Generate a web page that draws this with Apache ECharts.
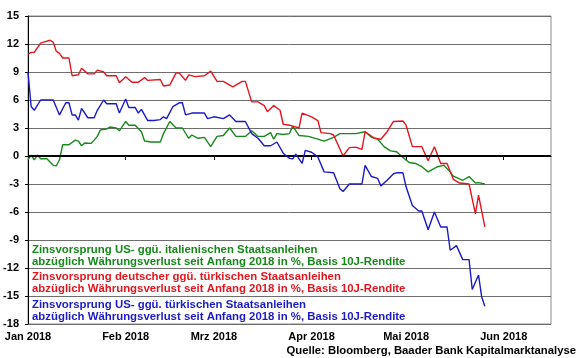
<!DOCTYPE html>
<html>
<head>
<meta charset="utf-8">
<script src="https://cdn.jsdelivr.net/npm/echarts@6/dist/echarts.min.js"></script>
<style>html,body{margin:0;padding:0;background:#fff}#c{width:580px;height:358px}</style>
</head>
<body>
<div id="c"></div>
<script>
// ---- data ----
const monthTicks = ['2018-01-01','2018-02-01','2018-03-01','2018-04-01','2018-05-01','2018-06-01'];
const monthNames = ['Jan','Feb','Mrz','Apr','Mai','Jun','Jul','Aug','Sep','Okt','Nov','Dez'];
const xRange = ['2018-01-01','2018-06-16'];

const redDates = ['2018-01-01','2018-01-02','2018-01-03','2018-01-05','2018-01-06','2018-01-08','2018-01-09','2018-01-10','2018-01-11','2018-01-12','2018-01-14','2018-01-15','2018-01-17','2018-01-18','2018-01-20','2018-01-22','2018-01-23','2018-01-25','2018-01-26','2018-01-29','2018-01-30','2018-02-01','2018-02-03','2018-02-05','2018-02-07','2018-02-08','2018-02-12','2018-02-13','2018-02-15','2018-02-17','2018-02-18','2018-02-20','2018-02-21','2018-02-23','2018-02-26','2018-02-28','2018-03-02','2018-03-04','2018-03-07','2018-03-10','2018-03-11','2018-03-13','2018-03-15','2018-03-17','2018-03-18','2018-03-20','2018-03-22','2018-03-23','2018-03-25','2018-03-28','2018-03-29','2018-04-01','2018-04-03','2018-04-04','2018-04-07','2018-04-08','2018-04-11','2018-04-13','2018-04-15','2018-04-17','2018-04-18','2018-04-21','2018-04-23','2018-04-25','2018-04-27','2018-04-30','2018-05-01','2018-05-03','2018-05-06','2018-05-08','2018-05-10','2018-05-12','2018-05-14','2018-05-16','2018-05-18','2018-05-21','2018-05-23','2018-05-24','2018-05-26'];
const redValues = [10.9,11.1,11.1,12.1,12.2,12.4,12.2,11.2,11.0,10.5,10.5,8.6,8.7,9.4,8.8,8.8,9.2,9.0,8.6,8.6,7.85,8.5,7.9,7.9,8.4,8.1,8.2,7.5,7.6,8.9,8.9,8.1,8.7,8.5,8.6,9.1,8.0,8.0,7.4,8.0,8.0,5.8,5.8,5.4,4.75,5.4,4.9,3.4,3.3,3.0,4.6,4.2,3.8,2.5,2.4,2.25,0.0,0.9,0.95,0.7,2.6,1.9,1.8,2.6,3.7,3.75,3.3,1.0,1.0,-0.5,1.0,-0.8,-0.8,-2.5,-2.9,-3.0,-6.2,-4.2,-7.6];

const blueDates = ['2018-01-01','2018-01-02','2018-01-03','2018-01-05','2018-01-07','2018-01-09','2018-01-11','2018-01-13','2018-01-14','2018-01-15','2018-01-16','2018-01-17','2018-01-18','2018-01-20','2018-01-22','2018-01-23','2018-01-25','2018-01-26','2018-01-29','2018-01-30','2018-02-01','2018-02-02','2018-02-04','2018-02-05','2018-02-06','2018-02-08','2018-02-10','2018-02-12','2018-02-13','2018-02-14','2018-02-16','2018-02-18','2018-02-19','2018-02-20','2018-02-22','2018-02-24','2018-02-26','2018-02-27','2018-03-01','2018-03-04','2018-03-06','2018-03-08','2018-03-11','2018-03-13','2018-03-15','2018-03-17','2018-03-19','2018-03-21','2018-03-23','2018-03-25','2018-03-26','2018-03-27','2018-03-29','2018-03-30','2018-04-01','2018-04-03','2018-04-05','2018-04-08','2018-04-10','2018-04-11','2018-04-13','2018-04-17','2018-04-18','2018-04-20','2018-04-22','2018-04-23','2018-04-25','2018-04-27','2018-04-28','2018-04-30','2018-05-01','2018-05-03','2018-05-05','2018-05-06','2018-05-08','2018-05-10','2018-05-12','2018-05-14','2018-05-15','2018-05-17','2018-05-19','2018-05-21','2018-05-22','2018-05-24','2018-05-25','2018-05-26'];
const blueValues = [9.0,5.3,4.9,6.0,6.0,6.0,4.4,5.7,5.7,4.4,4.4,3.85,5.1,4.1,4.1,4.9,6.0,5.6,5.6,4.6,6.1,5.2,5.2,4.6,5.0,3.8,3.8,3.9,4.2,4.0,5.3,5.7,5.7,4.4,4.6,4.6,4.6,4.0,4.2,4.0,4.4,3.7,3.7,2.4,1.9,1.1,1.1,1.5,0.3,-0.25,-0.3,0.2,-0.8,0.6,0.4,-0.1,-1.7,-1.8,-3.5,-3.8,-3.0,-3.0,-1.0,-2.2,-2.4,-3.2,-2.6,-1.9,-1.8,-1.8,-3.3,-5.3,-5.9,-5.9,-7.9,-6.0,-7.6,-7.6,-10.1,-9.6,-11.1,-11.1,-14.3,-12.75,-15.1,-16.1];

const greenDates = ['2018-01-01','2018-01-02','2018-01-03','2018-01-04','2018-01-05','2018-01-07','2018-01-09','2018-01-10','2018-01-11','2018-01-12','2018-01-14','2018-01-16','2018-01-17','2018-01-18','2018-01-19','2018-01-21','2018-01-22','2018-01-23','2018-01-24','2018-01-26','2018-01-27','2018-01-29','2018-01-30','2018-02-01','2018-02-02','2018-02-04','2018-02-06','2018-02-07','2018-02-09','2018-02-12','2018-02-13','2018-02-15','2018-02-17','2018-02-19','2018-02-21','2018-02-22','2018-02-24','2018-02-26','2018-02-28','2018-03-02','2018-03-04','2018-03-06','2018-03-08','2018-03-11','2018-03-13','2018-03-15','2018-03-17','2018-03-19','2018-03-20','2018-03-21','2018-03-23','2018-03-25','2018-03-26','2018-03-28','2018-03-31','2018-04-03','2018-04-05','2018-04-08','2018-04-10','2018-04-13','2018-04-15','2018-04-18','2018-04-20','2018-04-22','2018-04-24','2018-04-26','2018-04-28','2018-04-30','2018-05-02','2018-05-04','2018-05-06','2018-05-08','2018-05-11','2018-05-13','2018-05-15','2018-05-16','2018-05-19','2018-05-21','2018-05-23','2018-05-24','2018-05-26'];
const greenValues = [-0.4,0.1,-0.4,0.1,-0.3,-0.3,-1.0,-1.05,-0.4,1.2,1.2,1.7,1.6,1.1,1.4,1.35,1.7,2.1,2.8,2.9,3.1,3.0,2.7,3.7,3.3,3.3,2.6,1.6,1.5,1.5,2.4,3.7,3.0,3.0,1.9,2.25,1.9,2.0,1.0,2.1,2.2,3.0,2.1,2.1,2.7,2.1,2.1,2.5,1.8,2.4,2.3,2.4,3.2,2.2,2.1,1.8,1.6,2.0,2.4,2.4,2.4,2.6,2.0,1.8,1.0,0.55,0.45,-0.15,-0.7,-0.8,-1.15,-1.7,-1.15,-1.0,-1.7,-2.15,-2.6,-2.2,-2.9,-2.85,-3.0];

const legendLines = [
  ['Zinsvorsprung US- ggü. italienischen Staatsanleihen', 'abzüglich Währungsverlust seit Anfang 2018 in %, Basis 10J-Rendite'],
  ['Zinsvorsprung deutscher ggü. türkischen Staatsanleihen', 'abzüglich Währungsverlust seit Anfang 2018 in %, Basis 10J-Rendite'],
  ['Zinsvorsprung US- ggü. türkischen Staatsanleihen', 'abzüglich Währungsverlust seit Anfang 2018 in %, Basis 10J-Rendite']
];
const sourceText = 'Quelle: Bloomberg, Baader Bank Kapitalmarktanalyse';

// ---- chart ----
const GREEN = '#17891a', RED = '#e3161f', BLUE = '#1b1bc6';
const ts = s => Date.parse(s + 'T00:00:00Z');
const zip = (d, v) => d.map((x, i) => [ts(x), v[i]]);
const FONT = 'Liberation Sans, Arial, sans-serif';
const tickTs = monthTicks.map(ts);

const chart = echarts.init(document.getElementById('c'), null, {renderer: 'canvas'});

const legendColors = [GREEN, RED, BLUE];
const legendTops = [244.5, 271.5, 299.5];
const graphics = [];
legendLines.forEach((pair, i) => {
  graphics.push({type: 'text', left: 32, top: legendTops[i], silent: true,
    style: {text: pair.join('\n'), fill: legendColors[i], font: 'bold 11.4px ' + FONT, lineHeight: 11.6}});
});
graphics.push({type: 'text', right: 4, top: 345, silent: true,
  style: {text: sourceText, fill: '#000', font: 'bold 11.3px ' + FONT}});

chart.setOption({
  animation: false,
  backgroundColor: '#fff',
  grid: {left: 28, right: 29, top: 16, bottom: 34, show: true, borderColor: '#8c8c8c', borderWidth: 1},
  xAxis: {
    type: 'value',
    min: ts(xRange[0]), max: ts(xRange[1]),
    axisLine: {lineStyle: {color: '#000', width: 1}},
    axisTick: {show: true, length: 4, lineStyle: {color: '#000'}, customValues: tickTs},
    axisLabel: {customValues: tickTs, color: '#000', fontWeight: 'bold', fontSize: 11, fontFamily: FONT, margin: 7,
      formatter: v => { const d = new Date(v); return monthNames[d.getUTCMonth()] + ' ' + d.getUTCFullYear(); }},
    splitLine: {show: false}
  },
  yAxis: {
    type: 'value', min: -18, max: 15, interval: 3,
    axisLine: {show: true, lineStyle: {color: '#000'}},
    axisTick: {show: true, length: 3, lineStyle: {color: '#000'}},
    axisLabel: {color: '#000', fontWeight: 'bold', fontSize: 11, fontFamily: FONT, margin: 9},
    splitLine: {show: true, lineStyle: {color: '#6e6e6e', width: 1}}
  },
  series: [
    {name: 'green', type: 'line', data: zip(greenDates, greenValues), showSymbol: false, lineStyle: {color: GREEN, width: 1.4}, z: 3,
      markLine: {silent: true, symbol: 'none', label: {show: false}, lineStyle: {color: '#000', width: 2, type: 'solid'}, data: [{yAxis: 0}]}},
    {name: 'red', type: 'line', data: zip(redDates, redValues), showSymbol: false, lineStyle: {color: RED, width: 1.4}, z: 4},
    {name: 'blue', type: 'line', data: zip(blueDates, blueValues), showSymbol: false, lineStyle: {color: BLUE, width: 1.4}, z: 5}
  ],
  graphic: graphics
});
</script>
</body>
</html>
